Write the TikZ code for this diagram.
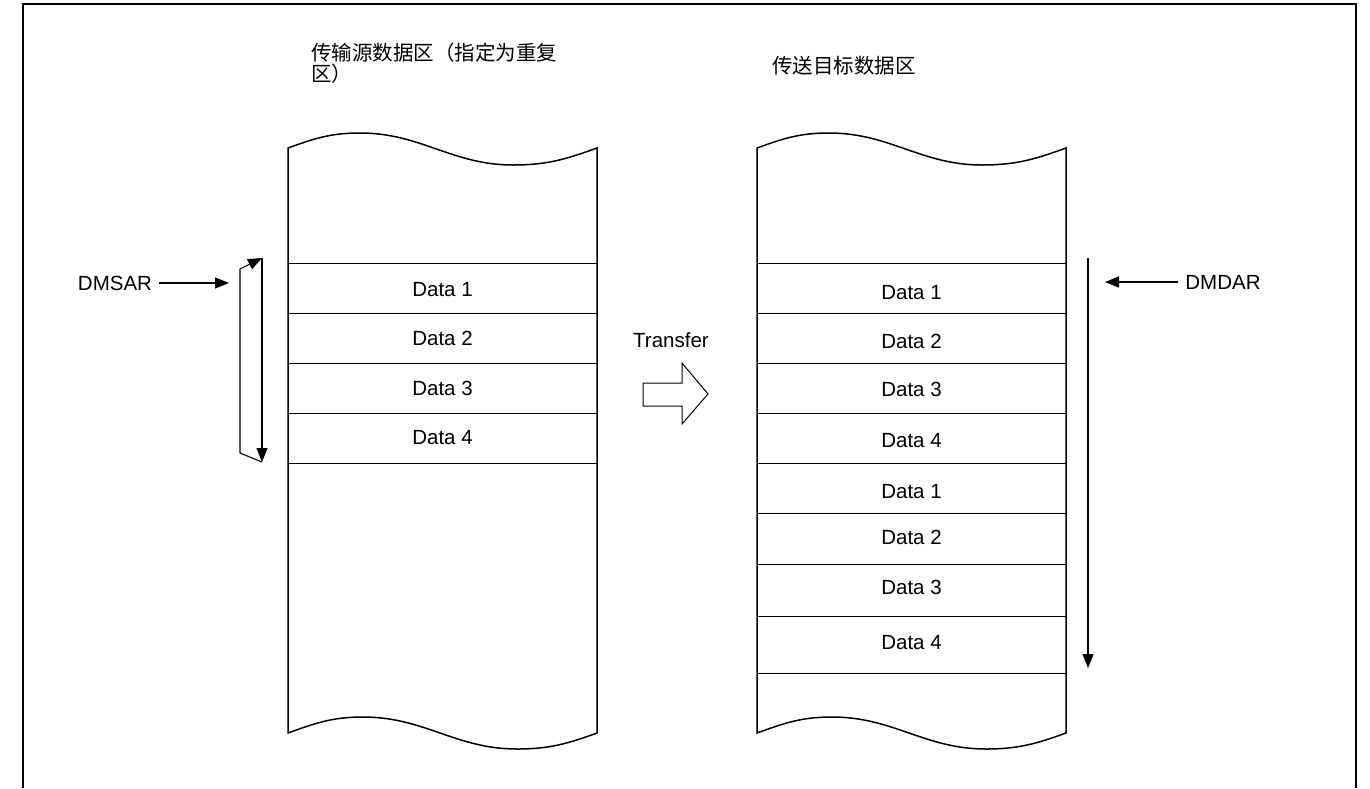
\documentclass[tikz,border=0pt]{standalone}
\usepackage{fontspec}
\setmainfont{Liberation Sans}
\newfontfamily\cjk{Noto Sans CJK SC}
\usetikzlibrary{arrows.meta}

\begin{document}
\begin{tikzpicture}[
x=1pt,y=-1pt,
every node/.style={
inner sep=0pt,
font=\fontsize{20.5}{21}\selectfont
},
cntitle/.style={
anchor=north west,
align=left,
font=\cjk\fontsize{20.5}{21}\selectfont
},
edge/.style={line width=1.5pt},
rowline/.style={line width=1pt},
ptr/.style={->,line width=1.1pt},
>={Triangle[length=14pt,width=11pt]}
]

\useasboundingbox (0,0) rectangle (1370,788);

% outer frame, open at the bottom
\draw[edge] (23,788) -- (23,4) -- (1356,4) -- (1356,788);

% the two memory areas
\foreach \xs in {0,469} {
\draw[edge] (288+\xs,148) to[out=20,in=180] (360+\xs,133)
  to[out=0,in=180] (513+\xs,165) to[out=0,in=200] (597+\xs,148)
  -- (597+\xs,733) to[out=200,in=0] (517+\xs,749)
  to[out=180,in=0] (363+\xs,717) to[out=180,in=20] (288+\xs,733) -- cycle;
}

\foreach \y in {263,313,363,413,463}
\draw[rowline] (288,\y) -- (597,\y);

\foreach \y in {263,313,363,413,463,513,564,616,673}
\draw[rowline] (757,\y) -- (1066,\y);

\node[cntitle] (srctitle) at (311,43) {传输源数据区（指定为重复\\区）};
\node[cntitle] (dsttitle) at (772,56) {传送目标数据区};

% source data
\foreach \y/\t [count=\i] in {290/1,338/2,388/3,438/4}
\node (s\i) at (442.5,\y) {Data \t};

% destination data
\foreach \y/\t [count=\i] in {293/1,341/2,389/3,441/4,492/1,537/2,587/3,643/4}
\node (d\i) at (911.5,\y) {Data \t};

% source address pointer
\node (dmsar) at (115,283) {DMSAR};
\coordinate (dmsarend) at (229,283);
\draw[ptr,shorten <=7pt] (dmsar) -- (dmsarend);

\coordinate (srctop) at (262,258);
\coordinate (srcbot) at (262,462);
\coordinate (srcret) at (240,453);
\coordinate (srcup) at (240,269);
\draw[ptr] (srctop) -- (srcbot);
\draw[ptr] (srcbot) -- (srcret) -- (srcup) -- (srctop);

% transfer
\node (xfer) at (671,340) {Transfer};
\draw[line width=1pt] (643,383) -- (682,383) -- (682,363) -- (708,394)
  -- (682,424) -- (682,406) -- (643,406) -- cycle;

% destination address pointer
\node (dmdar) at (1223,282) {DMDAR};
\coordinate (dmdarend) at (1105,282);
\draw[ptr,shorten <=7pt] (dmdar) -- (dmdarend);

\coordinate (dsttop) at (1088,258);
\coordinate (dstbot) at (1088,668);
\draw[ptr] (dsttop) -- (dstbot);

\end{tikzpicture}
\end{document}
